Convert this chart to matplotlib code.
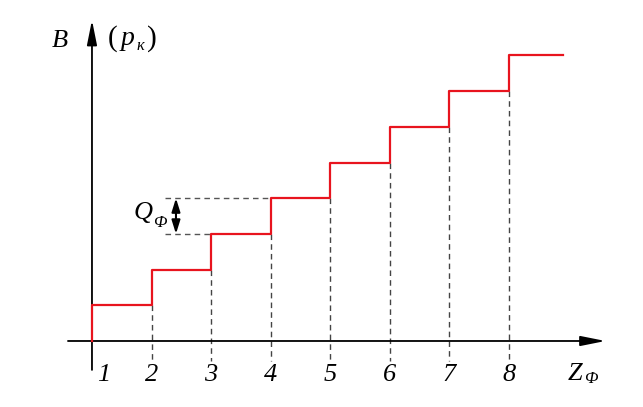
import matplotlib
matplotlib.use("Agg")
import matplotlib.pyplot as plt

plt.rcParams['font.family'] = ['Liberation Serif', 'DejaVu Serif']

# data
steps = [1, 2, 3, 4, 5, 6, 7, 8]
levels = [1, 2, 3, 4, 5, 6, 7, 8]
tick_labels = ['1', '2', '3', '4', '5', '6', '7', '8']
x_end = 8.9

fig = plt.figure(figsize=(6.43, 4.07), dpi=100)
ax = fig.add_axes([0, 0, 1, 1])
ax.set_xlim(-0.544, 10.25)
ax.set_ylim(-1.849, 9.552)
ax.axis('off')

big = dict(arrowstyle='-|>,head_length=1.5,head_width=0.3', color='black', lw=1.3,
           mutation_scale=10, shrinkA=0, shrinkB=0)
# axes lines
ax.annotate('', xy=(9.62, 0), xytext=(0.597, 0), arrowprops=big)
ax.annotate('', xy=(1, 8.99), xytext=(1, -0.81), arrowprops=big)

# step line
xs = [steps[0]] + steps + [x_end]
ys = [0] + levels + [levels[-1]]
ax.step(xs, ys, where='post', color='#e8141e', lw=1.6, zorder=3)

# dashed verticals
for s, lv in zip(steps[1:], levels[:-1]):
    ax.plot([s, s], [lv, -0.56], ls=(0, (4, 3)), color='#444444', lw=1.0, zorder=2)

# Q annotation dashed horizontals
qx = 2.23
ax.plot([qx, steps[3]], [levels[3], levels[3]], ls=(0, (4, 3)), color='#555555', lw=1.0)
ax.plot([qx, steps[2]], [levels[2], levels[2]], ls=(0, (4, 3)), color='#555555', lw=1.0)
ax.annotate('', xy=(2.41, levels[3]), xytext=(2.41, levels[2]),
            arrowprops=dict(arrowstyle='<|-|>,head_length=0.8,head_width=0.25', color='black',
                            lw=1.5, mutation_scale=10, shrinkA=0, shrinkB=0))

it = dict(fontstyle='italic', fontsize=19, va='baseline')
sub = dict(fontstyle='italic', fontsize=12, va='baseline')

ax.text(1.85, 3.42, 'Q', ha='center', **it)
ax.text(2.02, 3.19, 'Ф', ha='left', **sub)

# tick labels
for s, t in zip(steps, tick_labels):
    xpos = s + 0.19 if s == 1 else s
    ax.text(xpos, -1.12, t, ha='center', **it)

ax.text(9.11, -1.09, 'Z', ha='center', **it)
ax.text(9.26, -1.19, 'Ф', ha='left', **sub)
ax.text(0.455, 8.235, 'B', ha='center', **it)
ax.text(1.27, 8.27, '(', ha='left', va='baseline', fontsize=21)
ax.text(1.596, 8.28, 'p', ha='center', **dict(it, fontsize=20))
ax.text(1.75, 8.15, 'к', ha='left', **sub)
ax.text(2.08, 8.27, ')', ha='right', va='baseline', fontsize=21)

fig.savefig('out.png', dpi=100)
